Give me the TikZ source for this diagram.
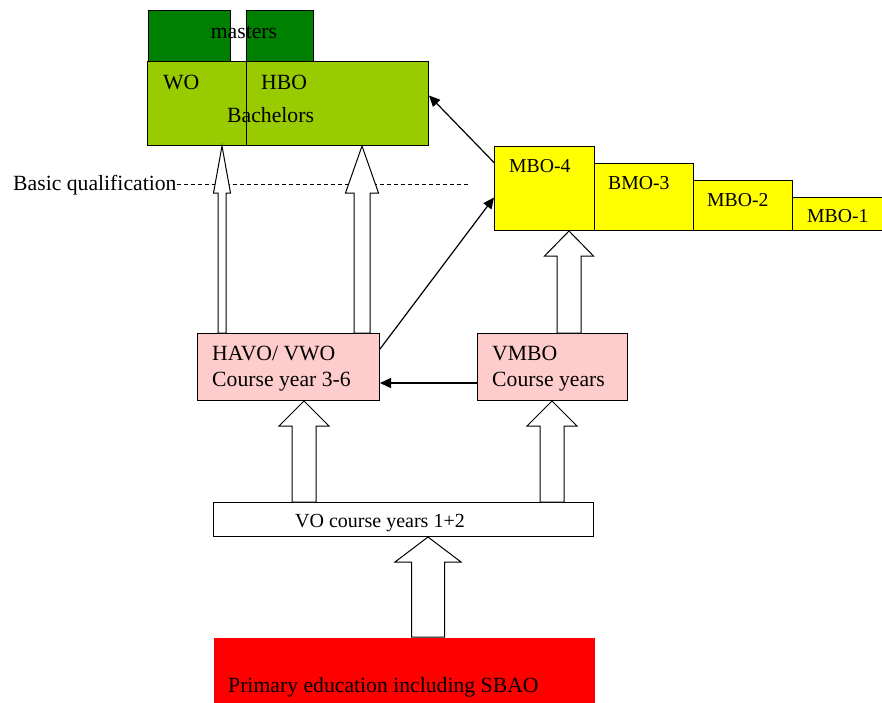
\documentclass[tikz,border=0pt]{standalone}
\usepackage{fontspec}
\setmainfont{Liberation Serif}
\usetikzlibrary{arrows.meta}
\definecolor{edu.master}{RGB}{0,128,0}
\definecolor{edu.bachelor}{RGB}{153,204,0}
\definecolor{edu.mbo}{RGB}{255,255,0}
\definecolor{edu.vo}{RGB}{255,204,204}
\definecolor{edu.primary}{RGB}{255,0,0}

% hollow block arrow: x, from node, to node, half shaft, half head, head length
\newcommand\blockarrow[6]{%
  \draw[hollow] let \p1=(#2.north), \p2=(#3.south) in
    (#1-#4,\y1) -- (#1-#4,\y2-#6pt) -- (#1-#5,\y2-#6pt) -- (#1,\y2)
    -- (#1+#5,\y2-#6pt) -- (#1+#4,\y2-#6pt) -- (#1+#4,\y1) -- cycle;}

\usetikzlibrary{calc}

\begin{document}
\begin{tikzpicture}[x=1pt,y=-1pt]
  \tikzset{box/.style={draw, line width=1pt, inner sep=0, anchor=north west},
    txt/.style={inner sep=0, anchor=base west,
      font=\fontsize{21.7}{26}\selectfont},
    smalltxt/.style={txt, font=\fontsize{19.7}{24}\selectfont},
    hollow/.style={draw, fill=white, line width=1pt},
    arr/.style={draw, line width=1.2pt, -{Triangle[length=11pt, width=10pt]}}}
  \useasboundingbox (0,0) rectangle (882,702);

  % masters and bachelors
  \node[box, fill=edu.master, minimum width=82pt, minimum height=51pt] (m1) at (148,10) {};
  \node[box, fill=edu.master, minimum width=67pt, minimum height=51pt] (m2) at (246,10) {};
  \node[box, fill=edu.bachelor, minimum width=99pt, minimum height=84pt] (wo) at (147,61) {};
  \node[box, fill=edu.bachelor, minimum width=182pt, minimum height=84pt] (hbo) at (246,61) {};

  % MBO levels
  \node[box, fill=edu.mbo, minimum width=100pt, minimum height=84pt] (mbo4) at (494,146) {};
  \node[box, fill=edu.mbo, minimum width=99pt, minimum height=67pt] (bmo3) at (594,163) {};
  \node[box, fill=edu.mbo, minimum width=99pt, minimum height=50pt] (mbo2) at (693,180) {};
  \node[box, fill=edu.mbo, minimum width=92pt, minimum height=33pt] (mbo1) at (792,197) {};

  % secondary and primary
  \node[box, fill=edu.vo, minimum width=182pt, minimum height=67pt] (havo) at (197,333) {};
  \node[box, fill=edu.vo, minimum width=150pt, minimum height=67pt] (vmbo) at (477,333) {};
  \node[box, fill=white, minimum width=380pt, minimum height=34pt] (vo) at (213,502) {};
  \node[box, draw=none, fill=edu.primary, minimum width=381pt, minimum height=70pt] (primary) at (213,637) {};

  % basic qualification
  \node[txt] (basic) at (13,190) {Basic qualification};
  \coordinate (dashend) at (470,184);
  \draw[dash pattern=on 4pt off 3pt, line width=0.8pt] (basic.east |- dashend) -- (dashend);

  \blockarrow{222}{havo}{wo}{4}{8.5}{47}
  \blockarrow{362}{havo}{hbo}{8}{16.5}{47}
  \blockarrow{569}{vmbo}{mbo4}{12}{24.5}{25}
  \blockarrow{304}{vo}{havo}{12}{25}{25}
  \blockarrow{552}{vo}{vmbo}{12}{25}{25}
  \blockarrow{428}{primary}{vo}{16.5}{33}{25}

  \draw[arr] ([yshift=-16pt]vmbo.west) -- ([yshift=-16pt]havo.east);
  \draw[arr] ([yshift=18pt]havo.east) -- ([yshift=-9pt]mbo4.west);
  \draw[arr] ([yshift=26pt]mbo4.west) -- ([yshift=8pt]hbo.east);

  % texts
  \node[txt, anchor=base] (masters) at (244,38) {masters};
  \node[txt] (wotext) at (163,89) {WO};
  \node[txt] (hbotext) at (261,89) {HBO};
  \node[txt] (bachelors) at (227,122) {Bachelors};
  \node[smalltxt] (mbo4text) at (509,172) {MBO-4};
  \node[smalltxt] (bmo3text) at (608,189) {BMO-3};
  \node[smalltxt] (mbo2text) at (707,206) {MBO-2};
  \node[smalltxt] (mbo1text) at (807,222) {MBO-1};
  \node[txt, align=left] (havotext) at (212,386) {HAVO/ VWO\\Course year 3-6};
  \node[txt, align=left] (vmbotext) at (492,386) {VMBO\\Course years};
  \node[txt, anchor=base, font=\fontsize{20}{24}\selectfont] (votext) at (380,527) {VO course years 1+2};
  \node[txt] (primarytext) at (228,692) {Primary education including SBAO};
\end{tikzpicture}
\end{document}
